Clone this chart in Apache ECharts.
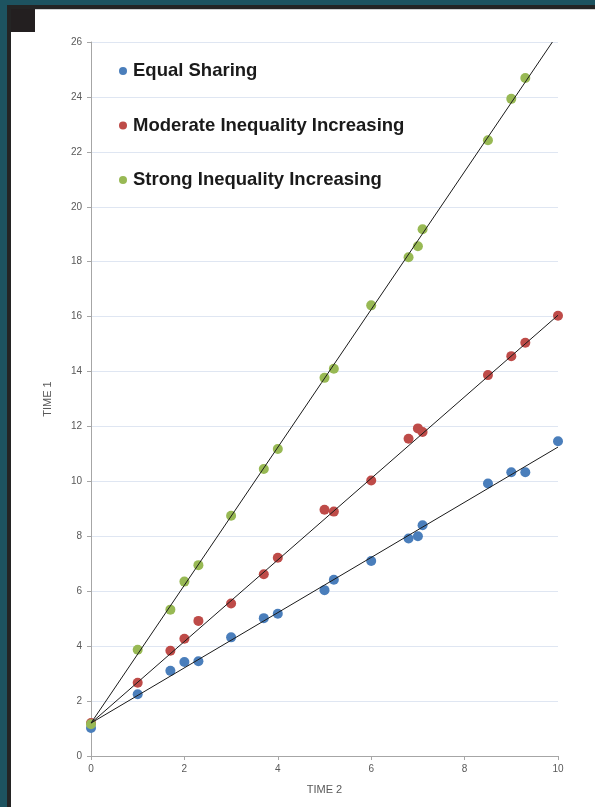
<!DOCTYPE html>
<html>
<head>
<meta charset="utf-8">
<script src="https://cdn.jsdelivr.net/npm/echarts@6/dist/echarts.min.js"></script>
<style>
  html, body { margin: 0; padding: 0; width: 595px; height: 807px; overflow: hidden; background: #1d5360; }
  #frame { position: absolute; left: 7px; top: 5px; width: 588px; height: 802px; background: #242424; }
  #page { position: absolute; left: 11px; top: 9px; width: 584px; height: 798px; background: #ffffff; border-top: 1px solid #d0d0d0; box-sizing: border-box; }
  #mark { position: absolute; left: 11px; top: 9px; width: 24px; height: 23px; background: #231f20; z-index: 5; }
  #chart { position: absolute; left: 0; top: 0; width: 595px; height: 807px; }
</style>
</head>
<body>
<div id="frame"></div>
<div id="page"></div>
<div id="mark"></div>
<div id="chart"></div>
<script>
// ---- data ----
var seriesNames = ['Equal Sharing', 'Moderate Inequality Increasing', 'Strong Inequality Increasing'];
var xTime2 = [0, 1, 1.7, 2, 2.3, 3, 3.7, 4, 5, 5.2, 6, 6.8, 7, 7.1, 8.5, 9, 9.3, 10];
var equalSharing = [1.02, 2.25, 3.1, 3.42, 3.45, 4.32, 5.02, 5.18, 6.04, 6.42, 7.1, 7.92, 8.0, 8.4, 9.92, 10.33, 10.33, 11.46];
var moderateIneq = [1.2, 2.67, 3.83, 4.27, 4.92, 5.55, 6.62, 7.22, 8.97, 8.9, 10.03, 11.55, 11.93, 11.8, 13.87, 14.56, 15.05, 16.03];
var strongIneq = [1.16, 3.87, 5.33, 6.35, 6.95, 8.75, 10.45, 11.18, 13.77, 14.1, 16.41, 18.16, 18.56, 19.18, 22.42, 23.93, 24.69];
var trendEqual = [[0, 1.2], [10, 11.25]];
var trendModerate = [[0, 1.2], [10, 16.05]];
var trendStrong = [[0, 1.2], [9.88, 26]];
var xTicks = { min: 0, max: 10, interval: 2 };
var yTicks = { min: 0, max: 26, interval: 2 };
var xName = 'TIME 2';
var yName = 'TIME 1';
var colors = ['#4a7ebb', '#be4b48', '#98b954'];

function pairs(xs, ys) {
  var out = [];
  for (var i = 0; i < ys.length; i++) out.push([xs[i], ys[i]]);
  return out;
}

var chart = echarts.init(document.getElementById('chart'), null, { renderer: 'canvas' });
var axisFont = { color: '#595959', fontSize: 10, fontFamily: 'Liberation Sans, Arial, sans-serif' };

function scatter(name, ys, color) {
  return {
    name: name, type: 'scatter', data: pairs(xTime2, ys),
    symbol: 'circle', symbolSize: 10,
    itemStyle: { color: color, opacity: 1 },
    z: 2
  };
}
function trend(data) {
  return {
    type: 'line', data: data, symbol: 'none', silent: true,
    lineStyle: { color: '#1a1a1a', width: 1 }, z: 3
  };
}

chart.setOption({
  backgroundColor: 'transparent',
  animation: false,
  grid: { left: 91, right: 37, top: 42, bottom: 51 },
  legend: {
    data: seriesNames.map(function (n) { return { name: n, icon: 'circle' }; }),
    orient: 'vertical', left: 119, top: 61, padding: 0,
    itemWidth: 8, itemHeight: 8, itemGap: 34.5,
    textStyle: { fontSize: 18.5, fontWeight: 'bold', color: '#1a1a1a', lineHeight: 20, fontFamily: 'Liberation Sans, Arial, sans-serif', padding: [0, 0, 0, 1] },
    selectedMode: false
  },
  xAxis: {
    type: 'value', min: xTicks.min, max: xTicks.max, interval: xTicks.interval,
    name: xName, nameLocation: 'middle', nameGap: 28,
    nameTextStyle: { color: '#595959', fontSize: 11, fontFamily: 'Liberation Sans, Arial, sans-serif' },
    axisLine: { show: true, lineStyle: { color: '#a6a6a6', width: 1 } },
    axisTick: { show: true, length: 4, lineStyle: { color: '#a6a6a6' } },
    axisLabel: Object.assign({ margin: 8 }, axisFont),
    splitLine: { show: false }
  },
  yAxis: {
    type: 'value', min: yTicks.min, max: yTicks.max, interval: yTicks.interval,
    name: yName, nameLocation: 'middle', nameGap: 38, nameRotate: 90,
    nameTextStyle: { color: '#595959', fontSize: 11, fontFamily: 'Liberation Sans, Arial, sans-serif' },
    axisLine: { show: true, lineStyle: { color: '#a6a6a6', width: 1 } },
    axisTick: { show: true, length: 4, lineStyle: { color: '#a6a6a6' } },
    axisLabel: Object.assign({ margin: 9 }, axisFont),
    splitLine: { show: true, lineStyle: { color: '#dfe6f2', width: 1 } }
  },
  series: [
    scatter(seriesNames[0], equalSharing, colors[0]),
    scatter(seriesNames[1], moderateIneq, colors[1]),
    scatter(seriesNames[2], strongIneq, colors[2]),
    trend(trendEqual),
    trend(trendModerate),
    trend(trendStrong)
  ]
});
</script>
</body>
</html>
